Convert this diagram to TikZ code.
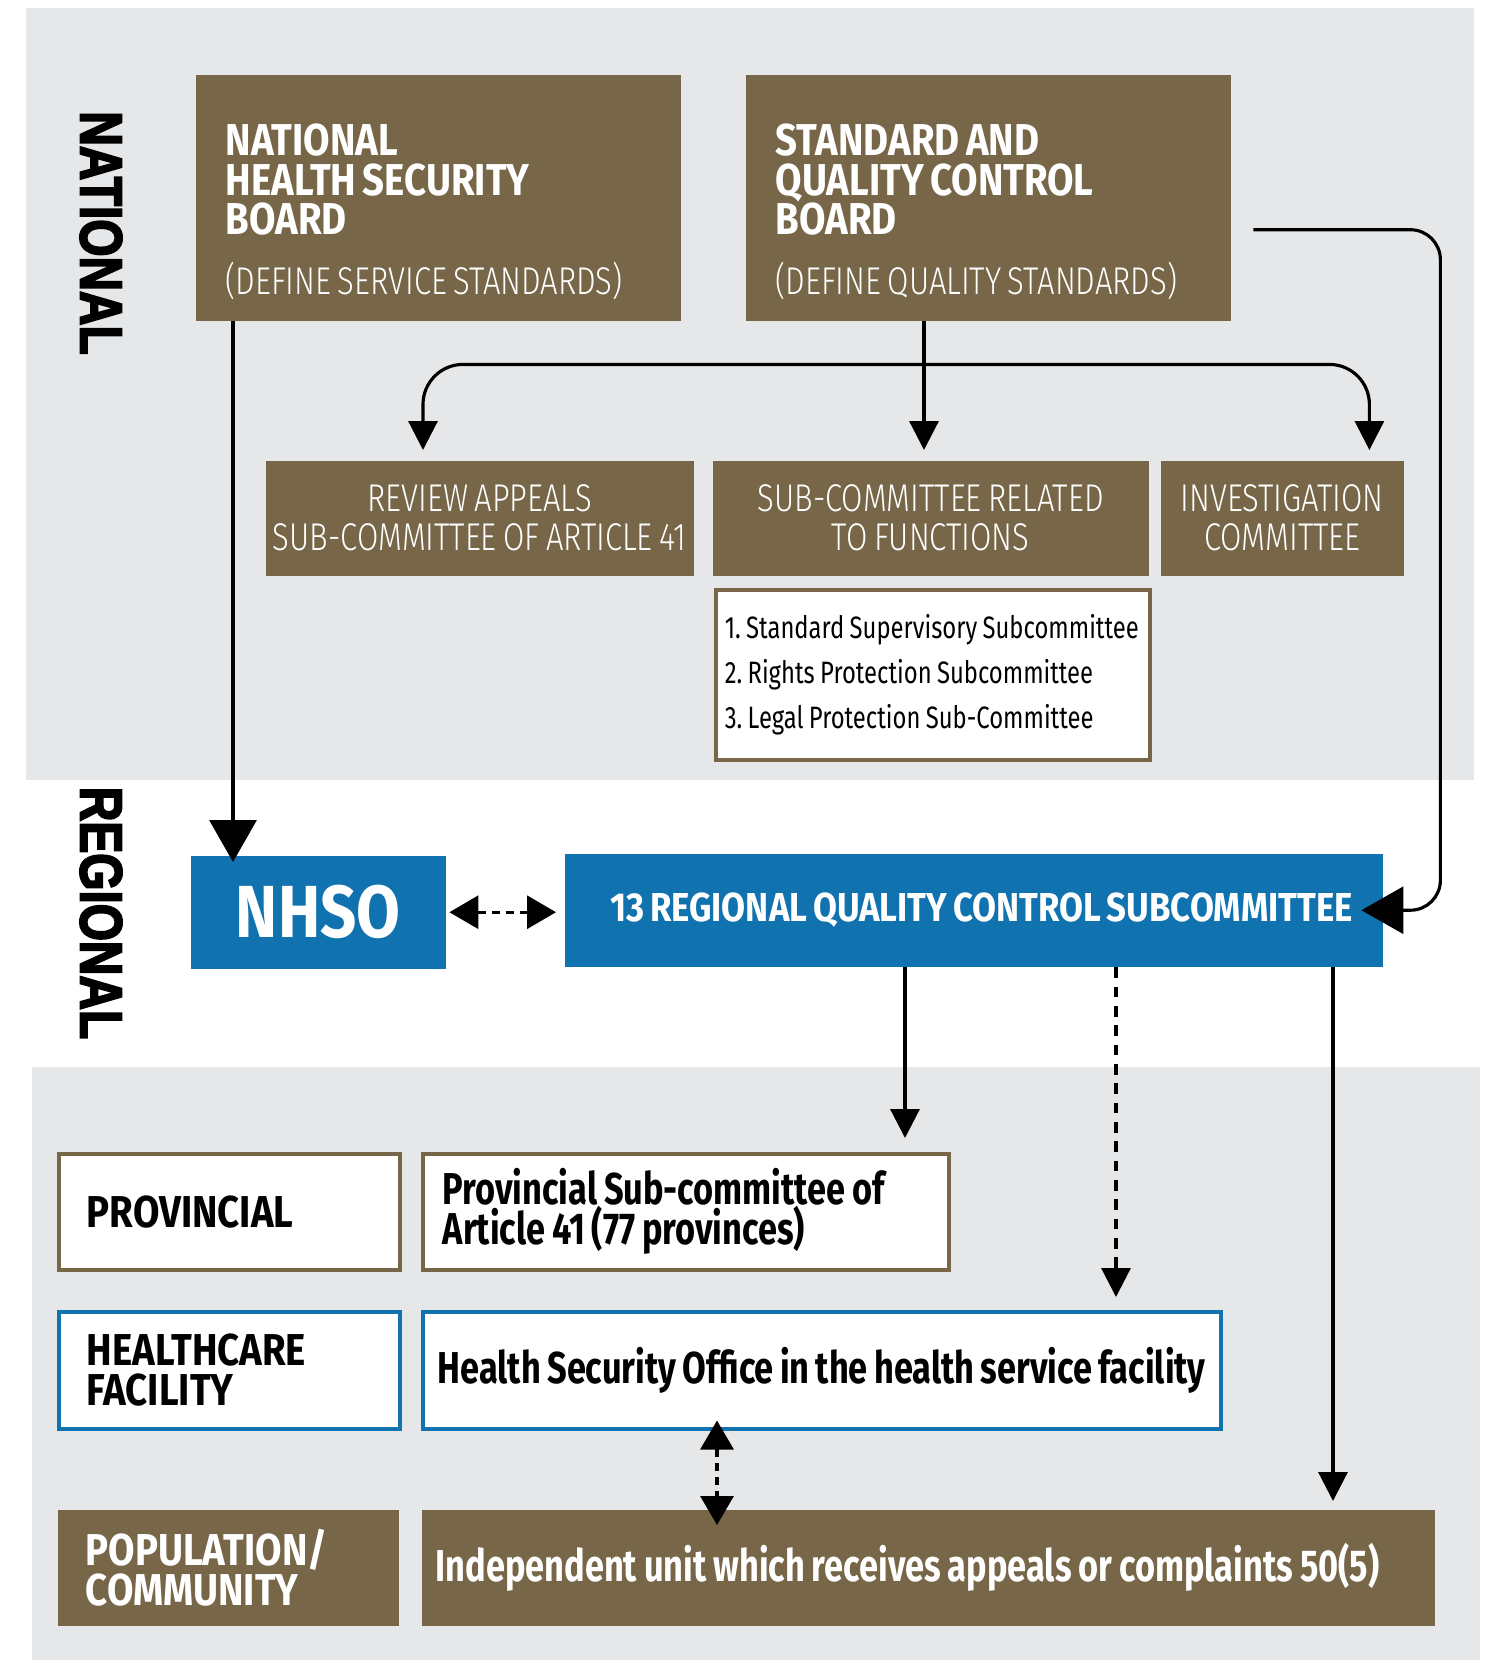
\documentclass[tikz,border=0pt]{standalone}
\usepackage{fontspec}
\setmainfont{Fira Sans}[FakeStretch=0.77, WordSpace=0.85]
\newfontfamily\capsfont{Fira Sans}[FakeStretch=0.86, WordSpace=0.7]
\newfontfamily\thinfont{Fira Sans Light}[FakeStretch=0.8, WordSpace=0.75]
\newfontfamily\bandfont{Liberation Sans}[FakeStretch=0.8, FakeBold=3]
\usetikzlibrary{arrows.meta,calc}
\hyphenpenalty=10000
\frenchspacing

\definecolor{khaki}{RGB}{119,103,72}
\definecolor{regblue}{RGB}{17,114,176}
\definecolor{bandgrey}{RGB}{230,231,233}

\newcommand\boardtitle{\capsfont\bfseries\fontsize{12.7}{11.3}\selectfont}
\newcommand\boardsub{\thinfont\mdseries\fontsize{11}{11}\selectfont}
\newcommand\cmtfont{\thinfont\fontsize{11}{11.1}\selectfont}
\newcommand\listfont{\fontsize{8.8}{12.9}\selectfont}
\newcommand\levelfont{\capsfont\bfseries\fontsize{12.7}{11.4}\selectfont}
\newcommand\unitfont{\bfseries\fontsize{12.7}{11.4}\selectfont}

\tikzset{
  box/.style={anchor=north west, inner sep=0pt, minimum height=11.5mm},
  brownbox/.style={box, fill=khaki, text=white},
  bluebox/.style={box, fill=regblue, text=white},
  framed/.style={box, fill=white, draw=#1, line width=1pt},
  level/.style={text width=28.5mm, minimum width=34.1mm, align=flush left, font=\levelfont},
  link/.style={line width=0.9pt, -{Triangle[length=2.9mm,width=2.9mm]}},
  biglink/.style={line width=0.9pt, -{Triangle[length=4.2mm,width=4.7mm]}},
  dotlink/.style={line width=0.9pt, dash pattern=on 2.3pt off 1.7pt,
    {Triangle[length=2.9mm,width=3.3mm]}-{Triangle[length=2.9mm,width=3.3mm]}},
}

\begin{document}
\begin{tikzpicture}[x=0.1mm, y=-0.1mm]
  \useasboundingbox (0,0) rectangle (1486,1660);

  % bands
  \fill[bandgrey] (26,8) rectangle (1474,780);
  \fill[bandgrey] (32,1067) rectangle (1480,1660);
  \node[rotate=-90, font=\bandfont\bfseries\fontsize{17}{17}\selectfont] (natl) at (101,233) {NATIONAL};
  \node[rotate=-90, font=\bandfont\bfseries\fontsize{17}{17}\selectfont] (regl) at (101,913) {REGIONAL};

  % national level
  \node[brownbox, minimum width=48.5mm, minimum height=24.6mm, text width=42.5mm, align=flush left] (nhsb) at (195,74)
    {\vskip2mm\boardtitle NATIONAL\\HEALTH SECURITY\\BOARD\par\vskip5pt\boardsub (DEFINE SERVICE STANDARDS)};
  \node[brownbox, minimum width=48.5mm, minimum height=24.6mm, text width=42.5mm, align=flush left] (sqcb) at (745,74)
    {\vskip2mm\boardtitle STANDARD AND\\QUALITY CONTROL\\BOARD\par\vskip5pt\boardsub (DEFINE QUALITY STANDARDS)};

  \node[brownbox, minimum width=42.8mm, align=center, font=\cmtfont] (review) at (265,460) {REVIEW APPEALS\\SUB-COMMITTEE OF ARTICLE 41};
  \node[brownbox, minimum width=43.6mm, align=center, font=\cmtfont] (funcs) at (712,460) {SUB-COMMITTEE RELATED\\TO FUNCTIONS};
  \node[brownbox, minimum width=24.3mm, align=center, font=\cmtfont] (invest) at (1160,460) {INVESTIGATION\\COMMITTEE};
  \node[framed=khaki, minimum width=43.4mm, minimum height=17mm, text width=41.6mm, align=flush left, font=\listfont] (subs) at (714,588)
    {1. Standard Supervisory Subcommittee\\2. Rights Protection Subcommittee\\3. Legal Protection Sub-Committee};

  % regional level
  \node[bluebox, minimum width=25.5mm, minimum height=11.3mm, font=\capsfont\bfseries\fontsize{21}{21}\selectfont] (nhso) at (190,855) {NHSO};
  \node[bluebox, minimum width=81.8mm, minimum height=11.3mm, text width=75.8mm, align=flush right,
    font=\capsfont\bfseries\fontsize{11.5}{11.5}\selectfont] (reg) at (564,853)
    {13 REGIONAL QUALITY CONTROL SUBCOMMITTEE};

  % provincial, facility and community levels
  \node[framed=khaki, level, minimum height=11.6mm] (prov) at (57,1152) {PROVINCIAL};
  \node[framed=khaki, minimum width=52.6mm, minimum height=11.6mm, text width=48.6mm, align=flush left, font=\unitfont] (provsub) at (421,1152)
    {Provincial Sub-committee of\\Article 41 (77 provinces)};
  \node[framed=regblue, level, minimum height=11.7mm] (hcf) at (57,1310) {HEALTHCARE\\FACILITY};
  \node[framed=regblue, minimum width=79.8mm, minimum height=11.7mm, text width=76.8mm, align=flush left, font=\unitfont] (hso) at (421,1310)
    {Health Security Office in the health service facility};
  \node[brownbox, level, minimum height=11.6mm] (pop) at (57,1509) {POPULATION/\\COMMUNITY};
  \node[brownbox, minimum width=101.3mm, minimum height=11.6mm, text width=98.5mm, align=flush left, font=\unitfont] (indep) at (421,1509)
    {Independent unit which receives appeals or complaints 50(5)};

  % connectors
  \path (nhsb.south west) ++(38,0) coordinate (down);
  \path (sqcb.south west) ++(179,0) coordinate (split) ++(0,43) coordinate (bus);
  \path (reg.south west) ++(341,0) coordinate (p1) ++(211,0) coordinate (p2) ++(217,0) coordinate (p3);
  \path (hso.south west) ++(296,0) coordinate (p4);

  \draw[biglink, shorten >=-0.7mm] (down) -- (down |- nhso.north);
  \draw[link, shorten >=1mm] (split) -- (split |- funcs.north);
  \draw[link, rounded corners=4mm, shorten >=1mm] (bus) -| ($(review.north west)+(158,0)$);
  \draw[link, rounded corners=4mm, shorten >=1mm] (bus) -| ($(invest.north east)+(-35,0)$);
  \draw[biglink, rounded corners=3mm] ($(sqcb.east)+(22,32)$) -| ($(reg.east)+(57,0)$) -- ($(reg.east)+(-22,0)$);
  \draw[dotlink, shorten <=0.3mm, shorten >=0.8mm] (nhso.east) -- (nhso.east -| reg.west);

  \draw[link, shorten >=1.4mm] (p1) -- (p1 |- provsub.north);
  \draw[link, dash pattern=on 3pt off 2.5pt, shorten >=1.3mm] (p2) -- (p2 |- hso.north);
  \draw[link, shorten >=0.8mm] (p3) -- (p3 |- indep.north);
  \draw[dotlink, shorten <=-1mm, shorten >=-1.6mm] (p4) -- (p4 |- indep.north);
\end{tikzpicture}
\end{document}
